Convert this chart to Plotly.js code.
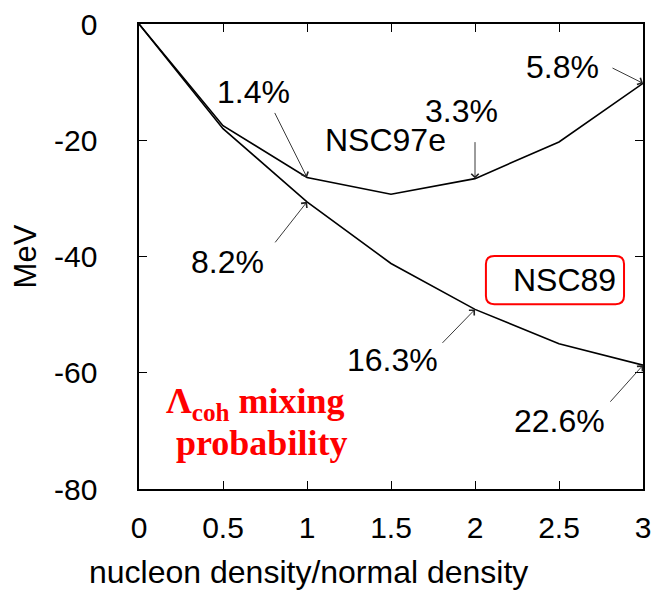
<!DOCTYPE html>
<html>
<head>
<meta charset="utf-8">
<script src="https://cdn.plot.ly/plotly-3.0.1.min.js"></script>
<style>html,body{margin:0;padding:0;background:#fff;}#chart{width:652px;height:590px;}</style>
</head>
<body>
<div id="chart"></div>
<script>
const density = [0, 0.5, 1, 1.5, 2, 2.5, 3];
const nsc97e = [0, -17.5, -26.4, -29.3, -26.6, -20.3, -10.2];
const nsc89 = [0, -18.0, -30.6, -41.2, -49.1, -55.0, -58.7];
const xTicks = [0, 0.5, 1, 1.5, 2, 2.5, 3];
const yTicks = [0, -20, -40, -60, -80];
const mix97e = ['1.4%', '3.3%', '5.8%'];
const mix97eIdx = [2, 4, 6];
const mix89 = ['8.2%', '16.3%', '22.6%'];
const mix89Idx = [2, 4, 6];

const fam = 'Liberation Sans, Arial, sans-serif';
const font = {family: fam, size: 32, color: '#000'};
const tickFont = {family: fam, size: 30, color: '#000'};

const traces = [
  {x: density, y: nsc97e, mode: 'lines', line: {color: '#000', width: 1.6}, name: 'NSC97e', hoverinfo: 'skip'},
  {x: density, y: nsc89, mode: 'lines', line: {color: '#000', width: 1.6}, name: 'NSC89', hoverinfo: 'skip'}
];

// arrow tail offsets (px) and label offsets (px, relative to arrow tip)
const arr97 = [[-33, -66], [0, -38], [-32, -16]];
const lab97 = [[-54, -85], [-14, -68], [-81, -16]];
const arr89 = [[-33, 42], [-34, 35], [-34, 38]];
const lab89 = [[-80, 60], [-83, 51], [-84, 56]];

const annotations = [];
function addMix(labels, idx, series, arr, lab) {
  labels.forEach((t, i) => {
    const xv = density[idx[i]], yv = series[idx[i]];
    annotations.push({x: xv, y: yv, xref: 'x', yref: 'y', text: '', showarrow: true,
      ax: arr[i][0], ay: arr[i][1], arrowhead: 4, arrowsize: 1.6, arrowwidth: 0.9,
      arrowcolor: '#222', standoff: 0});
    annotations.push({x: xv, y: yv, xref: 'x', yref: 'y', text: t, showarrow: false,
      xshift: lab[i][0], yshift: -lab[i][1], font: font});
  });
}
addMix(mix97e, mix97eIdx, nsc97e, arr97, lab97);
addMix(mix89, mix89Idx, nsc89, arr89, lab89);

annotations.push({x: 1.47, y: -19.9, xref: 'x', yref: 'y', text: 'NSC97e', showarrow: false, font: font});
annotations.push({x: 2.53, y: -44.1, xref: 'x', yref: 'y', text: 'NSC89', showarrow: false, font: font});
const redFont = {family: 'Liberation Serif, Times New Roman, serif', size: 36, color: '#ff0000'};
annotations.push({x: 0.696, y: -65.3, xref: 'x', yref: 'y', showarrow: false,
  text: '<b>Λ<sub>coh</sub> mixing</b>', font: redFont});
annotations.push({x: 0.732, y: -72.1, xref: 'x', yref: 'y', showarrow: false,
  text: '<b>probability</b>', font: redFont});
annotations.push({x: 0.336, y: 0, xref: 'paper', yref: 'paper', xanchor: 'center', yanchor: 'middle',
  yshift: -83, showarrow: false, text: 'nucleon density/normal density', font: font});

// rounded box around NSC89 label
const bx0 = 2.065, bx1 = 2.887, by0 = -39.9, by1 = -48.2, rx = 0.05, ry = 1.4;
const boxPath = `M${bx0+rx},${by0} L${bx1-rx},${by0} Q${bx1},${by0} ${bx1},${by0-ry} ` +
  `L${bx1},${by1+ry} Q${bx1},${by1} ${bx1-rx},${by1} L${bx0+rx},${by1} Q${bx0},${by1} ${bx0},${by1+ry} ` +
  `L${bx0},${by0-ry} Q${bx0},${by0} ${bx0+rx},${by0} Z`;

const layout = {
  width: 652, height: 590,
  margin: {l: 139, r: 9, t: 24, b: 101},
  paper_bgcolor: '#fff', plot_bgcolor: '#fff',
  showlegend: false,
  font: font,
  xaxis: {range: [0, 3], tickvals: xTicks, ticktext: xTicks.map(String), ticks: 'inside', ticklen: 8,
    tickcolor: '#000', tickwidth: 1, showline: true, linecolor: '#000', linewidth: 1.6, mirror: 'ticks',
    showgrid: false, zeroline: false, ticklabelstandoff: 11, tickfont: tickFont},
  yaxis: {range: [-80, 0], tickvals: yTicks, ticktext: yTicks.map(String), ticks: 'inside', ticklen: 8,
    tickcolor: '#000', tickwidth: 1, showline: true, linecolor: '#000', linewidth: 1.6, mirror: 'ticks',
    showgrid: false, zeroline: false, ticklabelstandoff: 34, tickfont: tickFont,
    title: {text: 'MeV', font: {family: fam, size: 31, color: '#000'}, standoff: 8}},
  shapes: [{type: 'path', xref: 'x', yref: 'y', path: boxPath, line: {color: '#ff0000', width: 2}}],
  annotations: annotations
};

Plotly.newPlot('chart', traces, layout, {displayModeBar: false, staticPlot: true});
</script>
</body>
</html>
